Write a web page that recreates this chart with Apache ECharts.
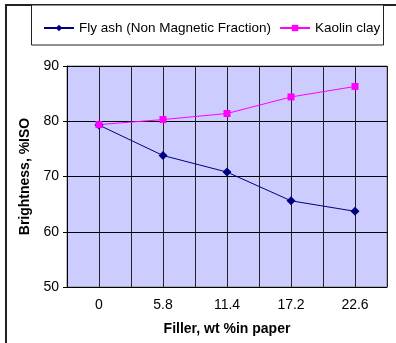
<!DOCTYPE html>
<html><head><meta charset="utf-8">
<script src="https://cdn.jsdelivr.net/npm/echarts@6/dist/echarts.min.js"></script>
<style>html,body{margin:0;padding:0;background:#fff}#c{width:396px;height:343px}</style>
</head><body><div id="c"></div>
<script>
var categories = ['0', '5.8', '11.4', '17.2', '22.6'];
var flyAsh = [79.3, 73.8, 70.8, 65.6, 63.7];
var kaolin = [79.4, 80.3, 81.4, 84.4, 86.3];
var seriesNames = ['Fly ash (Non Magnetic Fraction)', 'Kaolin clay'];
var yTitle = 'Brightness, %ISO';
var xTitle = 'Filler, wt %in paper';

var chart = echarts.init(document.getElementById('c'), null, {renderer: 'canvas'});
var font = 'Liberation Sans, Arial, sans-serif';
chart.setOption({
  animation: false,
  backgroundColor: '#fff',
  textStyle: {fontFamily: font},
  graphic: [
    {type: 'rect', shape: {x: 6, y: 5, width: 500, height: 500}, style: {fill: 'none', stroke: '#222', lineWidth: 2}, z: -10},
    {type: 'rect', shape: {x: 31.5, y: 5, width: 352, height: 40}, style: {fill: '#fff', stroke: '#222', lineWidth: 1}, z: -5}
  ],
  legend: {
    top: 16, left: 38, itemGap: 8, itemWidth: 30, itemHeight: 8,
    textStyle: {fontSize: 13.5, color: '#000', fontFamily: font},
    data: seriesNames
  },
  grid: {left: 67, right: 9, top: 66, bottom: 56, show: true, backgroundColor: '#CCCCFF', borderColor: '#808080', borderWidth: 1},
  xAxis: [
    {type: 'category', data: categories, boundaryGap: true,
     axisLine: {lineStyle: {color: '#000'}}, axisTick: {length: 5, lineStyle: {color: '#000'}},
     axisLabel: {fontSize: 14, color: '#000', margin: 11, fontFamily: font},
     splitLine: {show: false},
     name: xTitle, nameLocation: 'middle', nameGap: 35,
     nameTextStyle: {fontSize: 14, fontWeight: 'bold', color: '#000', fontFamily: font}},
    {type: 'value', min: 0, max: 10, interval: 1, show: true, position: 'bottom',
     axisLine: {show: false}, axisTick: {show: false}, axisLabel: {show: false},
     splitLine: {show: true, lineStyle: {color: '#222', width: 1}}}
  ],
  yAxis: {type: 'value', min: 50, max: 90, interval: 10,
    axisLine: {show: true, lineStyle: {color: '#000'}}, axisTick: {show: true, length: 4, lineStyle: {color: '#000'}},
    axisLabel: {fontSize: 14, color: '#000', margin: 8, fontFamily: font},
    splitLine: {show: true, lineStyle: {color: '#000', width: 1}},
    name: yTitle, nameLocation: 'middle', nameGap: 33, nameRotate: 90,
    nameTextStyle: {fontSize: 14, fontWeight: 'bold', color: '#000', fontFamily: font}},
  series: [
    {name: seriesNames[0], type: 'line', data: flyAsh, xAxisIndex: 0,
     symbol: 'diamond', symbolSize: 9, color: '#000080',
     lineStyle: {width: 1, color: '#000080'}, itemStyle: {color: '#000080'}},
    {name: seriesNames[1], type: 'line', data: kaolin, xAxisIndex: 0,
     symbol: 'rect', symbolSize: 7, color: '#FF00FF',
     lineStyle: {width: 1, color: '#FF00FF'}, itemStyle: {color: '#FF00FF'}}
  ]
});
</script></body></html>
